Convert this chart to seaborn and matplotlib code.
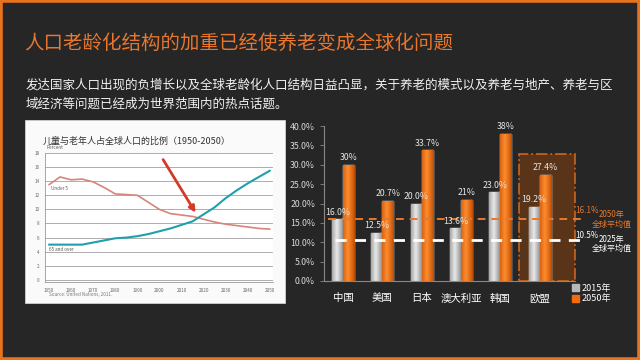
import numpy as np
import pandas as pd
import matplotlib
matplotlib.use("Agg")
import matplotlib.pyplot as plt
import seaborn as sns
from matplotlib.patches import Rectangle, Patch
from matplotlib.colors import to_rgb

# --- dados ---
years = list(range(1950, 2051, 5))
under5 = [13.5, 14.6, 14.2, 14.3, 13.9, 13.1, 12.2, 12.1, 12.0, 11.0, 10.0,
          9.4, 9.2, 9.0, 8.6, 8.2, 7.9, 7.7, 7.5, 7.3, 7.2]
over65 = [5.0, 5.0, 5.0, 5.0, 5.3, 5.6, 5.9, 6.0, 6.2, 6.5, 6.9,
          7.3, 7.8, 8.3, 9.3, 10.3, 11.6, 12.7, 13.7, 14.6, 15.5]

countries = ['中国', '美国', '日本', '澳大利亚', '韩国', '欧盟']
share_2015 = [16.0, 12.5, 20.0, 13.6, 23.0, 19.2]
share_2050 = [30.0, 20.7, 33.7, 21.0, 38.0, 27.4]
labels_2015 = ['16.0%', '12.5%', '20.0%', '13.6%', '23.0%', '19.2%']
labels_2050 = ['30%', '20.7%', '33.7%', '21%', '38%', '27.4%']
avg_2050 = 16.1
avg_2025 = 10.5
eu_box_top = 32.8

title = '人口老龄化结构的加重已经使养老变成全球化问题'
body1 = '发达国家人口出现的负增长以及全球老龄化人口结构日益凸显，关于养老的模式以及养老与地产、养老与区'
body2 = '域经济等问题已经成为世界范围内的热点话题。'

# --- estilo ---
sns.set_theme(style="white")
plt.rcParams['font.family'] = ['Noto Sans CJK SC', 'DejaVu Sans']
plt.rcParams['axes.unicode_minus'] = False

BG = '#262626'
ORANGE = '#F26B0F'
GRAY = '#B8B8B8'

W, H = 640, 360
def fx(px):
    return px / W
def fy(py):
    return 1 - py / H

fig = plt.figure(figsize=(6.4, 3.6), dpi=100, facecolor=BG)

# titulo e texto
fig.text(fx(24), fy(43), title, fontsize=14, color='#E8762D', va='center')
fig.text(fx(26), fy(85), body1, fontsize=9.0, color='#F2F2F2', va='center')
fig.text(fx(26), fy(104), body2, fontsize=9.0, color='#F2F2F2', va='center')

# painel branco do grafico de linhas
fig.add_artist(Rectangle((fx(25), fy(303)), fx(260), 183 / H, transform=fig.transFigure,
                         facecolor='#FAFAFA', edgecolor='#D0D0D0', lw=0.6, zorder=-1))
fig.text(fx(43), fy(141), '儿童与老年人占全球人口的比例（1950-2050）', fontsize=6.5,
         color='#333333', va='center')

# Grafico 1: linhas
ax1 = fig.add_axes([fx(45), fy(282), fx(228), 129 / H])
ax1.set_facecolor('white')
sns.lineplot(x=years, y=under5, color='#D9847A', lw=1.2, ax=ax1)
sns.lineplot(x=years, y=over65, color='#1FA0AA', lw=1.5, ax=ax1)
ax1.set_xlim(1948.2, 2051.4)
ax1.set_ylim(-0.3, 18)
ax1.set_yticks(range(0, 19, 2))
ax1.set_xticks(range(1950, 2051, 10))
ax1.yaxis.grid(True, color='#A0A0A0', lw=0.6)
ax1.tick_params(labelsize=3.3, colors='#666666', length=2, width=0.5, pad=2)
for s in ['top', 'right']:
    ax1.spines[s].set_visible(False)
for s in ['left', 'bottom']:
    ax1.spines[s].set_color('#999999')
    ax1.spines[s].set_linewidth(0.6)
ax1.text(1949, 18.5, 'Percent', fontsize=3.3, color='#555555')
ax1.text(1951, 12.9, 'Under 5', fontsize=3.3, color='#555555', va='center')
ax1.text(1950, 4.3, '65 and over', fontsize=3.3, color='#555555', va='center')
ax1.annotate('', xy=(2017, 9.2), xytext=(2001, 17.4),
             arrowprops=dict(arrowstyle='-|>', color='#D23A2A', lw=2, mutation_scale=9))
fig.text(fx(49), fy(294), 'Source: United Nations, 2011.', fontsize=3.3, color='#777777', va='center')

# Grafico 2: barras
df = pd.DataFrame({'国家': countries * 2,
                   '年份': ['2015年'] * len(countries) + ['2050年'] * len(countries),
                   '比例': share_2015 + share_2050})
ax2 = fig.add_axes([fx(324), fy(281), fx(259), 155 / H])
ax2.set_facecolor('none')
sns.barplot(data=df, x='国家', y='比例', hue='年份', order=countries,
            palette={'2015年': GRAY, '2050年': ORANGE}, width=0.56, saturation=1,
            legend=False, ax=ax2)

# destaque do EU
i_eu = countries.index('欧盟')
ax2.add_patch(Rectangle((i_eu - 0.53, 0), 1.42, eu_box_top, facecolor='#6B3A15', alpha=0.75,
                        edgecolor='#E8731F', lw=1.3, linestyle='-.', zorder=0.5))

def cylinder(ax, patch, c_dark, c_light):
    x0, w, h = patch.get_x(), patch.get_width(), patch.get_height()
    t = np.linspace(0, 1, 40)
    k = np.clip(1 - np.abs(t - 0.4) / 0.6, 0, 1) ** 0.8
    rgb = np.array(to_rgb(c_dark))[None, :] * (1 - k[:, None]) + np.array(to_rgb(c_light))[None, :] * k[:, None]
    im = ax.imshow(rgb[None, :, :], extent=[x0, x0 + w, 0, h], aspect='auto',
                   zorder=patch.get_zorder() + 0.1)
    im.set_clip_path(patch)

bars = [p for p in ax2.patches if p.get_height() > 0][:2 * len(countries)]
all_labels = labels_2015 + labels_2050
for n, p in enumerate(bars):
    if n < len(countries):
        cylinder(ax2, p, '#7A7A7A', '#E8E8E8')
    else:
        cylinder(ax2, p, '#B84A00', '#FF8A2E')
    ax2.text(p.get_x() + p.get_width() / 2, p.get_height() + 0.6, all_labels[n],
             ha='center', va='bottom', fontsize=6.3, color='#E6E6E6', zorder=5)

# linhas de media
ax2.hlines(avg_2050, -0.38, 6.05, colors='#E8782A', linestyles=(0, (4, 3)), lw=1.4, zorder=4)
ax2.hlines(avg_2025, -0.2, 6.07, colors='white', linestyles=(0, (4, 3)), lw=2, zorder=4)
ax2.text(5.9, avg_2050 + 2.2, f'{avg_2050}%', color='#E8782A', fontsize=5.8, va='center')
ax2.text(6.83, avg_2050 + 1.0, '2050年', color='#E8782A', fontsize=5.8, ha='center', va='center')
ax2.text(6.83, avg_2050 - 1.4, '全球平均值', color='#E8782A', fontsize=5.8, ha='center', va='center')
ax2.text(5.9, avg_2025 + 1.3, f'{avg_2025}%', color='white', fontsize=5.8, va='center')
ax2.text(6.83, avg_2025 + 0.2, '2025年', color='white', fontsize=5.8, ha='center', va='center')
ax2.text(6.83, avg_2025 - 2.2, '全球平均值', color='white', fontsize=5.8, ha='center', va='center')

ax2.set_xlim(-0.48, 6.1)
ax2.set_ylim(0, 40)
ax2.set_yticks(np.arange(0, 41, 5))
ax2.set_yticklabels([f'{v:.1f}%' for v in np.arange(0, 41, 5)])
ax2.set_xlabel('')
ax2.set_ylabel('')
ax2.tick_params(axis='y', labelsize=6.3, colors='#D9D9D9', length=3, width=0.6, color='#888888', left=True)
ax2.tick_params(axis='x', labelsize=7.5, colors='white', length=0, pad=9)
for s in ['top', 'right']:
    ax2.spines[s].set_visible(False)
for s in ['left', 'bottom']:
    ax2.spines[s].set_color('#888888')
    ax2.spines[s].set_linewidth(0.8)
ax2.spines['bottom'].set_bounds(-0.48, 5.9)

fig.legend(handles=[Patch(color=GRAY, label='2015年'), Patch(color=ORANGE, label='2050年')],
           loc='upper left', bbox_to_anchor=(fx(572), fy(284)), frameon=False, fontsize=6.5,
           labelcolor='white', handlelength=0.8, handleheight=0.8, handletextpad=0.3,
           labelspacing=0.15, borderaxespad=0, borderpad=0)

# moldura laranja
fig.add_artist(Rectangle((0, 0), 1, 1, transform=fig.transFigure, fill=False,
                         edgecolor='#E8731F', lw=4, zorder=10))

fig.savefig('out.png', dpi=100, facecolor=fig.get_facecolor())
